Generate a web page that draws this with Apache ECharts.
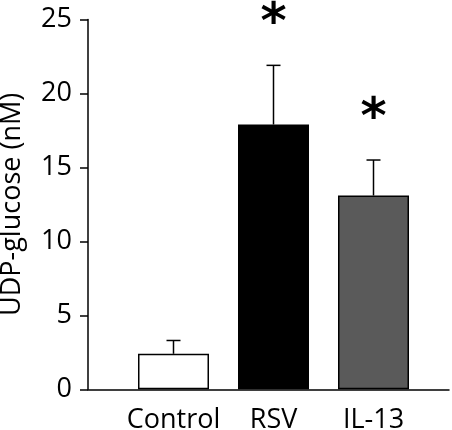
<!DOCTYPE html>
<html>
<head>
<meta charset="utf-8">
<script src="https://cdn.jsdelivr.net/npm/echarts@6/dist/echarts.min.js"></script>
<style>
html,body{margin:0;padding:0;background:#fff;}
#chart{width:452px;height:430px;}
</style>
</head>
<body>
<div id="chart"></div>
<script>
// Data
const categories = ['Control', 'RSV', 'IL-13'];
const means = [2.4, 17.9, 13.1];
const sems = [0.9, 4.0, 2.4];
const barColors = ['#ffffff', '#000000', '#5a5a5a'];
const significance = ['', '*', '*'];
const yTicks = [0, 5, 10, 15, 20, 25];

const FONT = 'Open Sans';
const chart = echarts.init(document.getElementById('chart'));

const errData = categories.map((c, i) => [i, means[i], means[i] + sems[i], significance[i]]);

const option = {
  animation: false,
  backgroundColor: '#ffffff',
  grid: [
    { left: 88, right: 3, top: 19.5, bottom: 40.7, containLabel: false, outerBoundsMode: 'none' },
    { left: 123.5, right: 28.5, top: 19.5, bottom: 40.7, containLabel: false, outerBoundsMode: 'none' }
  ],
  xAxis: [
    {
      gridIndex: 0, type: 'value', min: 0, max: 1,
      axisLine: { show: true, lineStyle: { color: '#000', width: 1.5 } },
      axisTick: { show: false }, axisLabel: { show: false }, splitLine: { show: false }
    },
    {
      gridIndex: 1, type: 'category', data: categories,
      axisLine: { show: false }, axisTick: { show: false },
      axisLabel: { interval: 0, color: '#000', fontSize: 27, fontFamily: FONT, margin: 18 }
    }
  ],
  yAxis: [
    {
      gridIndex: 0, type: 'value', min: yTicks[0], max: yTicks[yTicks.length - 1], interval: 5,
      name: 'UDP-glucose (nM)', nameLocation: 'middle', nameGap: 62,
      nameTextStyle: { color: '#000', fontSize: 27, fontFamily: FONT },
      axisLine: { show: true, lineStyle: { color: '#000', width: 1.5 } },
      axisTick: { show: true, inside: false, length: 8, lineStyle: { color: '#000', width: 1.5 } },
      axisLabel: { color: '#000', fontSize: 27, fontFamily: FONT, margin: 16 },
      splitLine: { show: false }
    },
    {
      gridIndex: 1, type: 'value', min: yTicks[0], max: yTicks[yTicks.length - 1], interval: 5, show: false
    }
  ],
  series: [
    {
      type: 'bar', xAxisIndex: 1, yAxisIndex: 1, barWidth: 71,
      data: means.map((v, i) => ({
        value: v,
        itemStyle: { color: barColors[i], borderColor: '#000', borderWidth: 1.5 }
      })),
      z: 2
    },
    {
      type: 'custom', xAxisIndex: 1, yAxisIndex: 1, z: 3,
      data: errData,
      renderItem: function (params, api) {
        const i = api.value(0);
        const p0 = api.coord([i, api.value(1)]);
        const p1 = api.coord([i, api.value(2)]);
        const capHalf = 7;
        const star = errData[params.dataIndex][3];
        const children = [
          { type: 'line', shape: { x1: p0[0], y1: p0[1], x2: p1[0], y2: p1[1] }, style: { stroke: '#000', lineWidth: 1.5 } },
          { type: 'line', shape: { x1: p1[0] - capHalf, y1: p1[1], x2: p1[0] + capHalf, y2: p1[1] }, style: { stroke: '#000', lineWidth: 1.5 } }
        ];
        if (star) {
          children.push({
            type: 'text',
            style: {
              text: star, x: p1[0], y: p1[1] - 40,
              align: 'center', verticalAlign: 'middle',
              font: 'bold 50px "DejaVu Sans"', fill: '#000'
            }
          });
        }
        return { type: 'group', children: children };
      }
    }
  ]
};
chart.setOption(option);
</script>
</body>
</html>
